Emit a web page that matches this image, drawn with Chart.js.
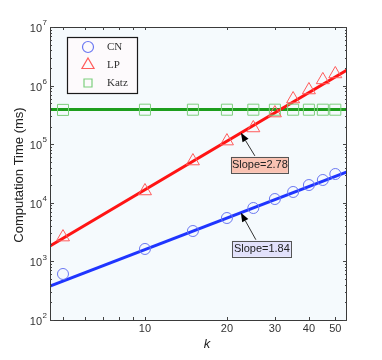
<!DOCTYPE html>
<html>
<head>
<meta charset="utf-8">
<script src="https://cdn.jsdelivr.net/npm/chart.js@4/dist/chart.umd.min.js"></script>
<style>
html,body{margin:0;padding:0;background:#fff;}
canvas{display:block;}
</style>
</head>
<body>
<canvas id="c" width="382" height="360" style="width:382px;height:360px"></canvas>
<script>
// ---- data ----
const kValues  = [5, 10, 15, 20, 25, 30, 35, 40, 45, 50];
const cnTime   = [610, 1630, 3300, 5500, 8150, 11600, 15300, 20100, 24500, 31000];
const lpTime   = [2600, 15900, 51600, 113000, 189000, 340000, 590000, 841000, 1250000, 1580000];
const katzTime = [385000, 388000, 388000, 388000, 388000, 388000, 388000, 388000, 388000, 388000];
const fitK     = [4.48, 55.2];
const cnFit    = [380, 33600];
const lpFit    = [1830, 1850000];
const katzFit  = [390000, 390000];
const xTickLabels = [10, 20, 30, 40, 50];
const xMinorTicks = [5, 6, 7, 8, 9];
const yExponents  = [2, 3, 4, 5, 6, 7];
const seriesNames = ['CN', 'LP', 'Katz'];
const slopeLabels = ['Slope=2.78', 'Slope=1.84'];
const annotK = 22.5;

const pts = (xs, ys) => xs.map((x, i) => ({x: x, y: ys[i]}));

const COL = {
  cnLine: '#1f35ff', cnMark: '#6b78f2',
  lpLine: '#ff1414', lpMark: '#ff5c5c',
  kzLine: '#1d9e1d', kzMark: '#7dcf7d'
};

function interpLog(xs, ys, x) {
  const lx0 = Math.log10(xs[0]), lx1 = Math.log10(xs[1]);
  const ly0 = Math.log10(ys[0]), ly1 = Math.log10(ys[1]);
  const t = (Math.log10(x) - lx0) / (lx1 - lx0);
  return Math.pow(10, ly0 + t * (ly1 - ly0));
}

function drawMarker(ctx, style, x, y, r) {
  ctx.beginPath();
  if (style === 'circle') {
    ctx.arc(x, y, r, 0, Math.PI * 2);
  } else if (style === 'triangle') {
    const h = r * 1.5, w = r * 1.732;
    ctx.moveTo(x, y - r);
    ctx.lineTo(x + w / 2, y - r + h);
    ctx.lineTo(x - w / 2, y - r + h);
    ctx.closePath();
  } else {
    ctx.rect(x - r, y - r, 2 * r, 2 * r);
  }
  ctx.stroke();
}

function arrow(ctx, x0, y0, x1, y1) {
  ctx.save();
  ctx.strokeStyle = '#333';
  ctx.fillStyle = '#000';
  ctx.lineWidth = 1;
  const ang = Math.atan2(y1 - y0, x1 - x0);
  const L = 9, W = 3.5;
  const bx = x1 - L * Math.cos(ang), by = y1 - L * Math.sin(ang);
  ctx.beginPath();
  ctx.moveTo(x0, y0);
  ctx.lineTo(bx, by);
  ctx.stroke();
  ctx.beginPath();
  ctx.moveTo(x1, y1);
  ctx.lineTo(bx + W * Math.sin(ang), by - W * Math.cos(ang));
  ctx.lineTo(bx - W * Math.sin(ang), by + W * Math.cos(ang));
  ctx.closePath();
  ctx.fill();
  ctx.restore();
}

const decor = {
  id: 'decor',
  beforeDraw(chart) {
    const {ctx, chartArea: a} = chart;
    ctx.save();
    ctx.fillStyle = '#ffffff';
    ctx.fillRect(0, 0, chart.width, chart.height);
    ctx.fillStyle = '#f5fafd';
    ctx.fillRect(a.left, a.top, a.right - a.left, a.bottom - a.top);
    ctx.restore();
  },
  afterDraw(chart) {
    const {ctx, chartArea: a, scales} = chart;
    const xs = scales.x, ys = scales.y;
    ctx.save();
    // frame
    ctx.strokeStyle = '#3a3a3a';
    ctx.lineWidth = 1;
    ctx.strokeRect(a.left + 0.5, a.top + 0.5, a.right - a.left - 1, a.bottom - a.top);
    // y ticks
    ctx.strokeStyle = '#444';
    yExponents.forEach((e, i) => {
      for (let m = 1; m <= 9; m++) {
        if (e === yExponents[yExponents.length - 1] && m > 1) break;
        const v = m * Math.pow(10, e);
        const py = Math.round(ys.getPixelForValue(v)) + 0.5;
        const len = m === 1 ? 4 : 2;
        ctx.beginPath();
        ctx.moveTo(a.left, py); ctx.lineTo(a.left + len, py);
        ctx.moveTo(a.right, py); ctx.lineTo(a.right - len, py);
        ctx.stroke();
      }
    });
    // x ticks
    xMinorTicks.concat(xTickLabels).forEach(k => {
      const px = Math.round(xs.getPixelForValue(k)) + 0.5;
      ctx.beginPath();
      ctx.moveTo(px, a.bottom); ctx.lineTo(px, a.bottom - 3);
      ctx.moveTo(px, a.top); ctx.lineTo(px, a.top + 3);
      ctx.stroke();
    });
    // y tick labels 10^e
    ctx.fillStyle = '#333';
    yExponents.forEach(e => {
      const py = ys.getPixelForValue(Math.pow(10, e));
      ctx.font = '11px "Liberation Sans", Arial, sans-serif';
      ctx.textAlign = 'right';
      ctx.textBaseline = 'middle';
      ctx.fillText('10', 42, py + 2);
      ctx.font = '8px "Liberation Sans", Arial, sans-serif';
      ctx.textAlign = 'left';
      ctx.fillText(String(e), 42.5, py - 4);
    });
    // x tick labels
    ctx.font = '11px "Liberation Sans", Arial, sans-serif';
    ctx.textAlign = 'center';
    ctx.textBaseline = 'middle';
    xTickLabels.forEach(k => {
      ctx.fillText(String(k), xs.getPixelForValue(k), 329);
    });
    // axis titles
    ctx.font = 'italic 13px "Liberation Sans", Arial, sans-serif';
    ctx.fillStyle = '#222';
    ctx.fillText('k', 207, 344);
    ctx.save();
    ctx.translate(19, 175);
    ctx.rotate(-Math.PI / 2);
    ctx.font = '13px "Liberation Sans", Arial, sans-serif';
    ctx.fillText('Computation Time (ms)', 0, 0);
    ctx.restore();

    // legend
    ctx.fillStyle = '#fdfafc';
    ctx.fillRect(67, 37, 70, 56);
    ctx.strokeStyle = '#1a1a1a';
    ctx.lineWidth = 1.2;
    ctx.strokeRect(67.5, 37.5, 70, 56);
    const legStyles = [['circle', COL.cnMark, 5.5], ['triangle', COL.lpMark, 7], ['rect', COL.kzMark, 4]];
    seriesNames.forEach((n, i) => {
      const yy = 47 + i * 18;
      ctx.strokeStyle = legStyles[i][1];
      ctx.lineWidth = 1.2;
      drawMarker(ctx, legStyles[i][0], 88, yy, legStyles[i][2]);
      ctx.fillStyle = '#333';
      ctx.font = '11px "Liberation Serif", "Times New Roman", serif';
      ctx.textAlign = 'left';
      ctx.textBaseline = 'middle';
      ctx.fillText(n, 107, yy + 0.5);
    });

    // slope annotations
    const ax = xs.getPixelForValue(annotK);
    const lpY = ys.getPixelForValue(interpLog(fitK, lpFit, annotK));
    const cnY = ys.getPixelForValue(interpLog(fitK, cnFit, annotK));
    const boxes = [
      {label: slopeLabels[0], fill: '#f9c2b2', bx: ax - 10, by: lpY + 24, w: 57, tail: [ax + 14, lpY + 23], tip: [ax, lpY]},
      {label: slopeLabels[1], fill: '#e2e1fb', bx: ax - 9, by: cnY + 28, w: 59, tail: [ax + 15, cnY + 27], tip: [ax, cnY]}
    ];
    boxes.forEach(b => {
      arrow(ctx, b.tail[0], b.tail[1], b.tip[0], b.tip[1]);
      ctx.fillStyle = b.fill;
      ctx.fillRect(b.bx, b.by, b.w, 16);
      ctx.strokeStyle = '#555';
      ctx.lineWidth = 1;
      ctx.strokeRect(Math.round(b.bx) + 0.5, Math.round(b.by) + 0.5, b.w, 16);
      ctx.fillStyle = '#222';
      ctx.font = '11px "Liberation Sans", Arial, sans-serif';
      ctx.textAlign = 'center';
      ctx.textBaseline = 'middle';
      ctx.fillText(b.label, b.bx + b.w / 2 + 0.5, b.by + 8.5);
    });
    ctx.restore();
  }
};

new Chart(document.getElementById('c'), {
  type: 'line',
  data: {
    datasets: [
      {label: 'CN', data: pts(kValues, cnTime), showLine: false, pointStyle: 'circle', pointRadius: 5.5,
       pointBorderColor: COL.cnMark, pointBackgroundColor: 'rgba(0,0,0,0)', pointBorderWidth: 1},
      {label: 'LP', data: pts(kValues, lpTime), showLine: false, pointStyle: 'triangle', pointRadius: 7.5,
       pointBorderColor: COL.lpMark, pointBackgroundColor: 'rgba(0,0,0,0)', pointBorderWidth: 1},
      {label: 'Katz', data: pts(kValues, katzTime), showLine: false, pointStyle: 'rect', pointRadius: 7.8,
       pointBorderColor: COL.kzMark, pointBackgroundColor: 'rgba(0,0,0,0)', pointBorderWidth: 1},
      {label: 'CN fit', data: pts(fitK, cnFit), borderColor: COL.cnLine, borderWidth: 3, pointRadius: 0},
      {label: 'LP fit', data: pts(fitK, lpFit), borderColor: COL.lpLine, borderWidth: 3, pointRadius: 0},
      {label: 'Katz fit', data: pts(fitK, katzFit), borderColor: COL.kzLine, borderWidth: 3, pointRadius: 0}
    ]
  },
  options: {
    responsive: false,
    animation: false,
    devicePixelRatio: 1,
    layout: {padding: {top: 27, right: 35, left: 0, bottom: 0}},
    plugins: {legend: {display: false}, tooltip: {enabled: false}},
    scales: {
      x: {type: 'logarithmic', min: 4.48, max: 55.2,
          grid: {display: false}, border: {display: false}, ticks: {display: false},
          afterFit(s) { s.height = 40; }},
      y: {type: 'logarithmic', min: 100, max: 1e7,
          grid: {display: false}, border: {display: false}, ticks: {display: false},
          afterFit(s) { s.width = 50; }}
    }
  },
  plugins: [decor]
});
</script>
</body>
</html>
